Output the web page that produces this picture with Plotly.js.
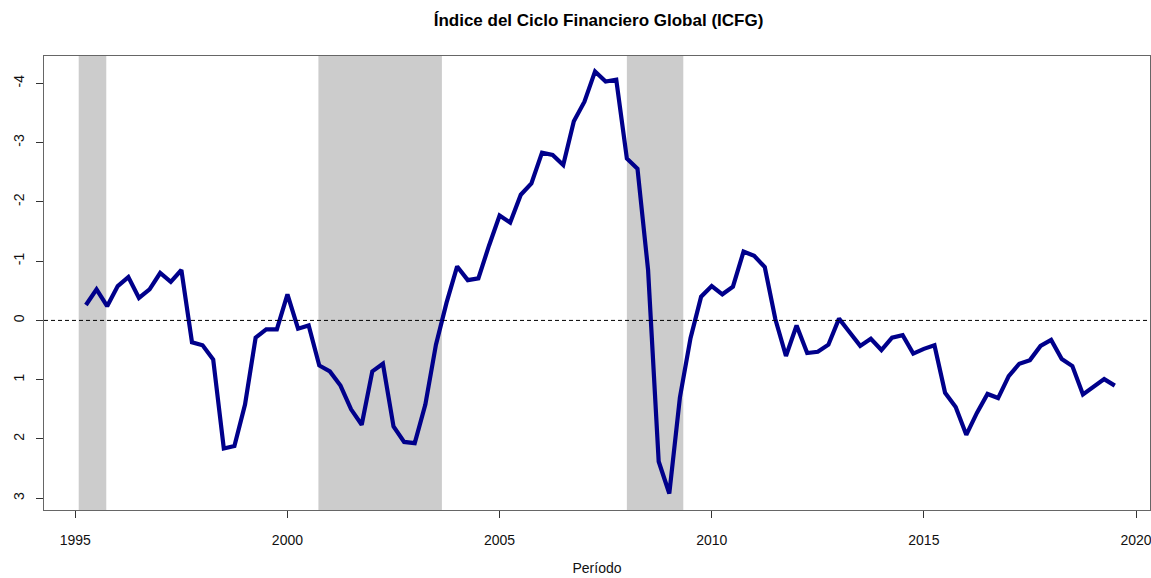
<!DOCTYPE html>
<html>
<head>
<meta charset="utf-8">
<script src="https://cdn.plot.ly/plotly-3.0.1.min.js"></script>
<style>
html,body{margin:0;padding:0;background:#fff;}
#chart{width:1151px;height:578px;}
</style>
</head>
<body>
<div id="chart"></div>
<script>
// Quarterly ICFG values, starting 1995 Q2
const startYear = 1995.25;
const icfg = [
  -0.26, -0.525, -0.24,
  -0.58, -0.73, -0.38, -0.525,
  -0.80, -0.65, -0.85, 0.37,
  0.42, 0.66, 2.16, 2.12,
  1.42, 0.29, 0.15, 0.15,
  -0.44, 0.14, 0.085, 0.76,
  0.86, 1.10, 1.50, 1.76,
  0.86, 0.73, 1.79, 2.05,
  2.07, 1.42, 0.41, -0.30,
  -0.91, -0.68, -0.71, -1.26,
  -1.77, -1.65, -2.12, -2.31,
  -2.83, -2.79, -2.62, -3.36,
  -3.69, -4.20, -4.03, -4.06,
  -2.73, -2.56, -0.85, 2.38,
  2.92, 1.30, 0.30, -0.40,
  -0.58, -0.44, -0.57, -1.16,
  -1.09, -0.90, -0.02, 0.60,
  0.085, 0.55, 0.53, 0.41,
  -0.03, 0.20, 0.43, 0.31,
  0.50, 0.29, 0.25, 0.56,
  0.48, 0.42, 1.22, 1.46,
  1.93, 1.56, 1.24, 1.31,
  0.94, 0.73, 0.67, 0.43,
  0.33, 0.65, 0.77, 1.25,
  1.11, 0.99, 1.10
];
const periods = icfg.map((v, i) => startYear + i * 0.25);

// Shaded episodes (start, end)
const shadeStart = [1995.08, 2000.73, 2008.0];
const shadeEnd = [1995.73, 2003.64, 2009.33];

const xTickVals = [1995, 2000, 2005, 2010, 2015, 2020];
const xTickText = ["1995", "2000", "2005", "2010", "2015", "2020"];
const yTickVals = [-4, -3, -2, -1, 0, 1, 2, 3];
const yTickText = ["-4", "-3", "-2", "-1", "0", "1", "2", "3"];

const shapes = shadeStart.map((s, i) => ({
  type: 'rect', xref: 'x', yref: 'paper',
  x0: s, x1: shadeEnd[i], y0: 0, y1: 1,
  fillcolor: '#CCCCCC', line: {width: 0}, layer: 'below'
}));
shapes.push({
  type: 'line', xref: 'paper', yref: 'y',
  x0: 0, x1: 1, y0: 0, y1: 0,
  line: {color: '#000', width: 1, dash: '4px,3px'}
});

const trace = {
  x: periods, y: icfg, type: 'scatter', mode: 'lines',
  line: {color: '#00008B', width: 4.2},
  hoverinfo: 'x+y'
};

const fontFam = '"Liberation Sans", Arial, sans-serif';

const layout = {
  width: 1151, height: 578,
  margin: {l: 44, r: 1, t: 56, b: 68, pad: 0},
  paper_bgcolor: '#fff', plot_bgcolor: 'rgba(0,0,0,0)',
  showlegend: false,
  font: {family: fontFam, size: 14, color: '#000'},
  title: {
    text: '<b>Índice del Ciclo Financiero Global (ICFG)</b>',
    font: {family: fontFam, size: 17, color: '#000'},
    x: 0.52, xanchor: 'center', y: 0.965, yanchor: 'middle'
  },
  xaxis: {
    range: [1994.262, 2020.33],
    tickvals: xTickVals, ticktext: xTickText,
    ticks: 'outside', ticklen: 7, tickcolor: '#333', tickwidth: 1,
    ticklabelstandoff: 10, ticklabeloverflow: 'allow',
    showgrid: false, zeroline: false,
    showline: true, linecolor: '#666', linewidth: 1, mirror: true,
    tickfont: {size: 14, color: '#111'},
    title: {text: 'Período', font: {size: 14, color: '#111'}, standoff: 16}
  },
  yaxis: {
    range: [3.198, -4.46],
    tickvals: yTickVals, ticktext: yTickText,
    tickangle: -90,
    ticks: 'outside', ticklen: 7, tickcolor: '#333', tickwidth: 1,
    ticklabelstandoff: 6,
    showgrid: false, zeroline: false,
    showline: true, linecolor: '#666', linewidth: 1, mirror: true,
    tickfont: {size: 14, color: '#111'}
  },
  shapes: shapes
};

Plotly.newPlot('chart', [trace], layout, {displayModeBar: false, staticPlot: true});
</script>
</body>
</html>
